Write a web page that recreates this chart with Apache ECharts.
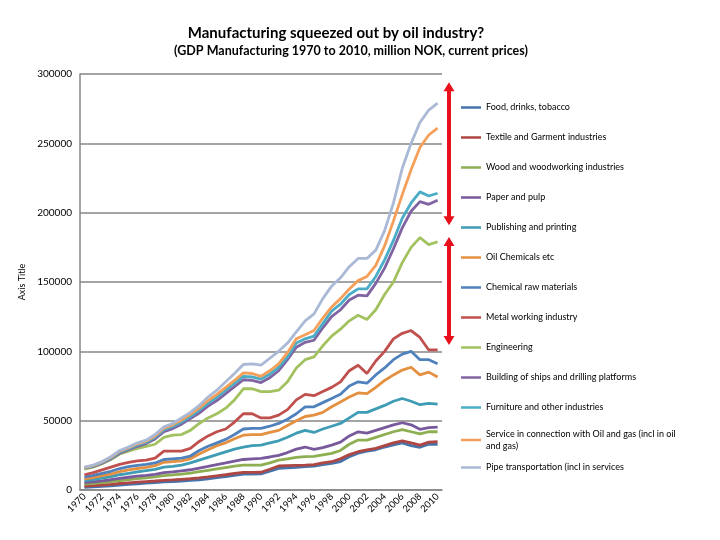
<!DOCTYPE html>
<html><head><meta charset="utf-8">
<script src="https://cdn.jsdelivr.net/npm/echarts@6/dist/echarts.min.js"></script>
<style>html,body{margin:0;padding:0;background:#fff}#c{width:720px;height:540px}</style>
</head><body><div id="c"></div>
<script>
// Categories
const years = ['1970','1971','1972','1973','1974','1975','1976','1977','1978','1979',
  '1980','1981','1982','1983','1984','1985','1986','1987','1988','1989',
  '1990','1991','1992','1993','1994','1995','1996','1997','1998','1999',
  '2000','2001','2002','2003','2004','2005','2006','2007','2008','2009','2010'];

// Stacked (cumulative) levels as drawn in the chart, million NOK
const food = [1900,2200,2600,3000,3500,4000,4500,4900,5300,5800, 6100,6500,6900,7400,8100,8900,9700,10600,11500,11500, 11600,13500,15600,16000,16300,16800,17200,18300,19200,20500, 24000,26500,28000,29000,31000,32500,34000,32000,30800,33000,33000];
const textile = [2900,3200,3600,4100,4700,5200,5700,6100,6500,7000, 7300,7700,8100,8700,9400,10200,11000,11900,12700,12700, 12800,15000,17300,17600,17800,18000,18300,19500,20400,22500, 25500,27600,29000,30000,32000,34000,35500,34000,32400,34500,34800];
const wood = [4300,4800,5400,6000,6800,7500,8200,8800,9400,10400, 10900,11500,12200,13200,14200,15200,16200,17200,18000,18000, 18000,19500,21500,22500,23500,24000,24200,25300,26400,28500, 33000,36000,36000,38000,40000,42000,43500,42000,40400,42000,42000];
const paper = [5300,5900,6600,7400,8400,9200,10000,10600,11300,12500, 13000,13800,14600,15800,17000,18300,19500,20800,22000,22500, 22800,23800,25000,27000,29500,31000,29300,30500,32400,34500, 39000,42000,41000,43000,45000,47000,48500,47000,43800,45000,45400];
const publishing = [6700,7500,8500,9700,11000,12000,13000,14000,14800,16500, 17000,18000,19500,21500,23500,25500,27500,29500,31000,32000, 32400,34000,35500,38000,41000,43000,41500,44000,46000,48000, 52000,56000,56000,58500,61000,64000,66000,64000,61500,62500,62000];
const oilChem = [8000,9000,10300,11500,13300,14500,15500,16300,17500,20000, 20500,21000,22500,26000,29000,32000,34000,37000,39500,40000, 40000,41500,43000,46500,50000,53000,54000,56000,60000,63500, 67000,70000,69500,74000,79000,83000,86500,88500,83000,85000,81500];
const chemRaw = [9500,10500,12000,13500,15500,16800,17800,18500,19500,22000, 22500,23000,24500,28500,31500,34000,36500,40000,44000,44500, 44500,46000,48000,51000,55000,60000,60000,63000,66000,69000, 75000,78000,77000,83000,88000,94000,98000,100000,94000,94000,91000];
const metal = [11000,12500,14500,16500,18500,20000,21000,21500,23000,28000, 28000,28000,30000,35000,39000,42000,44000,49000,55000,55000, 52000,52000,54000,58000,65000,69000,68000,71000,74000,78000, 86000,90000,84000,93000,100000,109000,113000,115000,110000,101000,101000];
const engineering = [15000,16500,19000,22000,26000,28000,30000,31500,33000,38000, 39500,40000,43000,48000,52000,55000,59000,65000,73000,73000, 71000,71000,72000,78000,88000,94000,96000,104000,111000,116000, 122000,126000,123000,130000,141000,150000,164000,175000,182000,177000,179000];
const ships = [15700,17000,19300,22400,26500,29000,31500,33500,36800,42000, 44300,47500,51500,55500,60500,64500,69500,74500,79500,79000, 77500,81000,86000,94000,103000,106500,108000,117000,125000,130000, 137000,140500,140000,149000,160000,174000,189000,201000,208000,206000,209000];
const furniture = [16000,17400,19800,23000,27300,29800,32500,34500,38000,43500, 45800,49000,53000,57500,62500,67000,72000,77000,82000,81500, 80000,83500,88500,96000,106000,109000,111000,120000,129000,134000, 141000,145000,145000,154000,166000,180000,196000,207000,215000,212000,214000];
const service = [16200,17700,20200,23600,28000,30500,33300,35300,39000,44500, 47000,50500,54500,59000,64500,69000,74000,79000,84500,84000, 82000,86000,91000,99000,109000,112000,115000,124000,132000,138000, 145000,151000,154000,162000,176000,194000,213000,231000,247000,256000,261000];
const pipe = [16500,18000,20500,24000,28500,31000,34000,36000,40000,45500, 48000,52000,56000,61000,67000,72000,78000,84000,90500,91000, 90000,95000,100000,106000,114000,122000,127000,138000,147000,153000, 161000,167000,167000,173000,187000,207000,232000,250000,265000,274000,279000];

const seriesNames = ['Food, drinks, tobacco','Textile and Garment industries','Wood and woodworking industries','Paper and pulp','Publishing and printing','Oil Chemicals etc','Chemical raw materials','Metal working industry','Engineering','Building of ships and drilling platforms','Furniture and other industries','Service in connection with Oil and gas (incl in oil and gas)','Pipe transportation (incl in services'];
const dataList = [food,textile,wood,paper,publishing,oilChem,chemRaw,metal,engineering,ships,furniture,service,pipe];

// Annotation arrows (value ranges on the y axis)
const arrowRanges = [[294000,191000],[182500,104500]];

const colors = ['#4673AA','#AE4643','#8EAE52','#78599C','#3E9CB4','#E39040','#4F81BD','#C0504D','#A2C15F','#8064A2','#4BACC6','#F4A05A','#A9B9D6'];
const FONT = 'Lato, "Liberation Sans", sans-serif';

const chart = echarts.init(document.getElementById('c'));

const series = seriesNames.map((n,i)=>({
  name:n, type:'line', data:dataList[i], symbol:'none', showSymbol:false,
  lineStyle:{width:2.8, color:colors[i]}, itemStyle:{color:colors[i]}, emphasis:{disabled:true}
}));

const legends = seriesNames.map((n,i)=>{
  const two = n.indexOf('Service') === 0;
  const cy = 108 + i*30;
  return {
    data:[n], orient:'vertical', left:461, top: two ? cy-16 : cy-5, padding:0,
    icon:'rect', itemWidth:20, itemHeight:2.5, selectedMode:false,
    formatter: two ? (()=> 'Service in connection with Oil and gas (incl in oil\nand gas)') : undefined,
    textStyle: two ? {fontFamily:FONT, fontSize:9, color:'#000', lineHeight:12, padding:[12,0,0,0]} : {fontFamily:FONT, fontSize:9, color:'#000'}
  };
});

chart.setOption({
  animation:false,
  backgroundColor:'#fff',
  grid:{left:80, right:278, top:74, bottom:50, containLabel:false},
  legend: legends,
  xAxis:{type:'category', data:years, boundaryGap:true,
    axisLine:{lineStyle:{color:'#868686', width:1.5}}, axisTick:{show:false},
    axisLabel:{interval:1, rotate:45, fontFamily:FONT, fontSize:9.5, color:'#000', margin:5}},
  yAxis:{type:'value', min:0, max:300000, interval:50000,
    name:'Axis Title', nameLocation:'middle', nameGap:44,
    nameTextStyle:{fontFamily:FONT, fontSize:9, color:'#000'},
    axisLine:{show:true, lineStyle:{color:'#868686', width:1.5}}, axisTick:{show:false},
    axisLabel:{fontFamily:FONT, fontSize:10, color:'#000', margin:8, formatter:(v)=>String(v)},
    splitLine:{lineStyle:{color:'#868686', width:1.5}}},
  series: series
});

const ax = 449;
const graphics = [
  {type:'text', x:336, y:33, style:{text:'Manufacturing squeezed out by oil industry?', fontFamily:FONT, fontSize:15, fontWeight:'bold', fill:'#000', align:'center', verticalAlign:'middle'}},
  {type:'text', x:351, y:51, style:{text:'(GDP Manufacturing 1970 to 2010, million NOK, current prices)', fontFamily:FONT, fontSize:12.5, fontWeight:'bold', fill:'#000', align:'center', verticalAlign:'middle'}}
];
arrowRanges.forEach(r=>{
  const y1 = chart.convertToPixel({yAxisIndex:0}, r[0]);
  const y2 = chart.convertToPixel({yAxisIndex:0}, r[1]);
  graphics.push({type:'line', shape:{x1:ax, y1:y1+7, x2:ax, y2:y2-7}, style:{stroke:'#E8101A', lineWidth:4}});
  graphics.push({type:'polygon', shape:{points:[[ax,y1],[ax-5.5,y1+9],[ax+5.5,y1+9]]}, style:{fill:'#E8101A'}});
  graphics.push({type:'polygon', shape:{points:[[ax,y2],[ax-5.5,y2-9],[ax+5.5,y2-9]]}, style:{fill:'#E8101A'}});
});
chart.setOption({graphic: graphics});
</script>
</body></html>
